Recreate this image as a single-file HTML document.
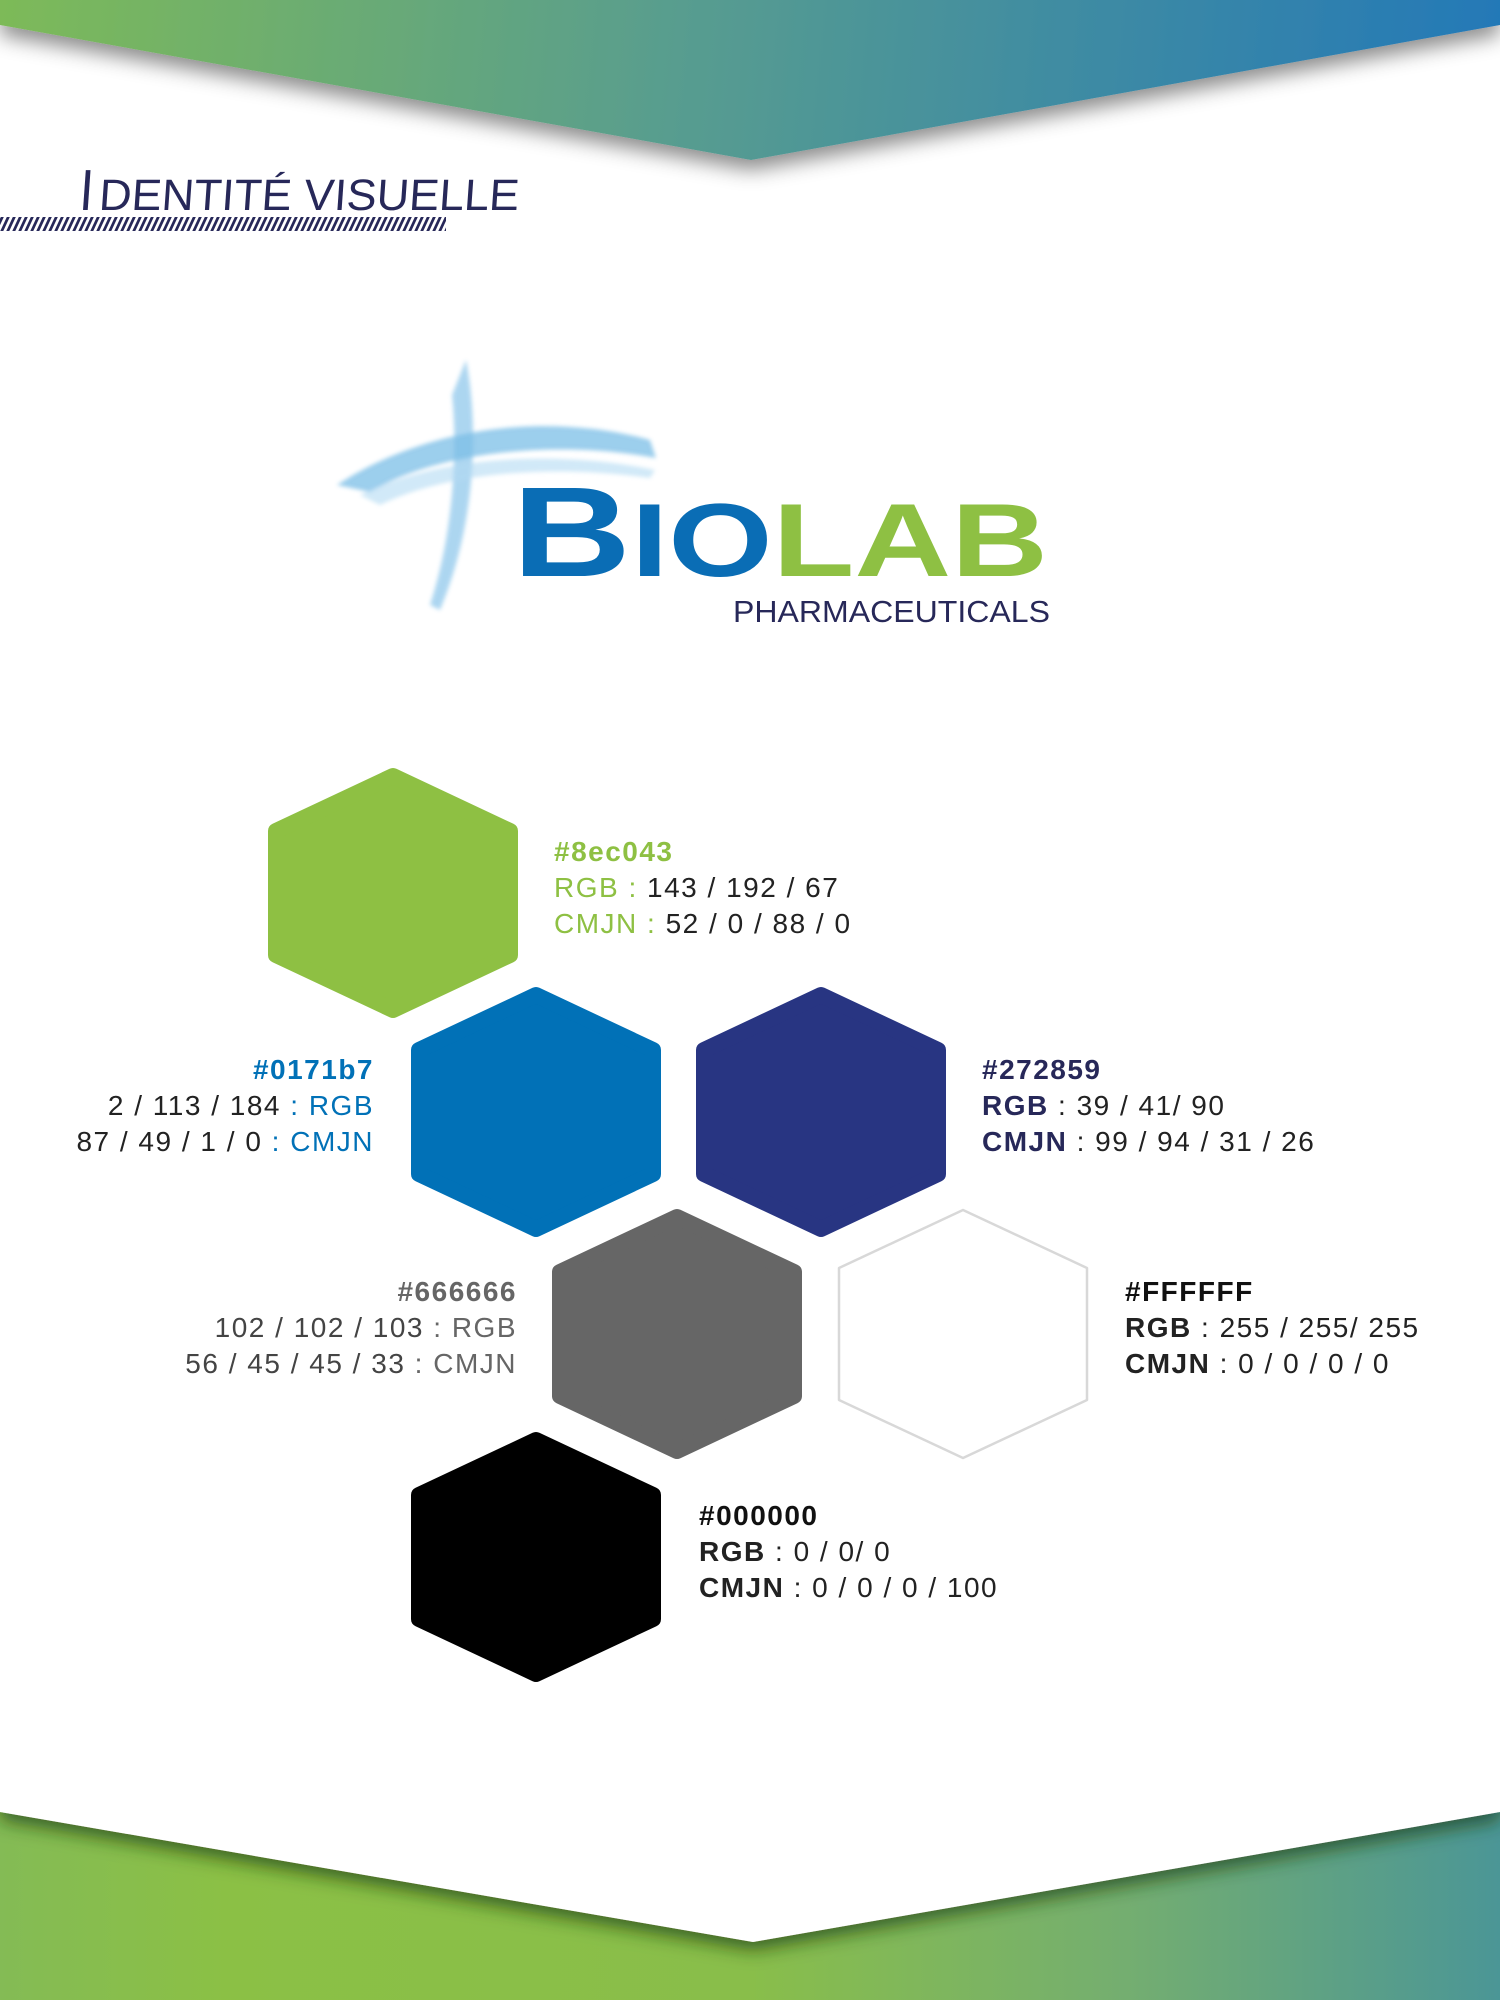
<!DOCTYPE html>
<html><head><meta charset="utf-8"><style>
html,body{margin:0;padding:0;background:#fff;}
svg{display:block;}
text{font-family:"Liberation Sans",sans-serif;}
</style></head><body>
<svg width="1500" height="2000" viewBox="0 0 1500 2000" xmlns="http://www.w3.org/2000/svg">
<defs>
<linearGradient id="gtop" x1="0" y1="0" x2="1500" y2="160" gradientUnits="userSpaceOnUse">
<stop offset="0" stop-color="#7dba58"/><stop offset="0.45" stop-color="#589d8f"/><stop offset="1" stop-color="#2378b8"/></linearGradient>
<linearGradient id="gbot" x1="0" y1="0" x2="1500" y2="0" gradientUnits="userSpaceOnUse">
<stop offset="0" stop-color="#84bb55"/><stop offset="0.15" stop-color="#8bc045"/><stop offset="0.5" stop-color="#89be4a"/><stop offset="0.75" stop-color="#74ae70"/><stop offset="1" stop-color="#4b9696"/></linearGradient>
<filter id="sh" x="-10%" y="-50%" width="120%" height="200%"><feDropShadow dx="0" dy="10" stdDeviation="10" flood-color="#000" flood-opacity="0.45"/></filter>
<filter id="sh2" x="-10%" y="-50%" width="120%" height="200%"><feDropShadow dx="0" dy="8" stdDeviation="9" flood-color="#1a3a10" flood-opacity="0.7"/></filter>
<pattern id="hatch" width="6" height="16" patternUnits="userSpaceOnUse" patternTransform="skewX(-25)"><rect x="0" y="0" width="3" height="16" fill="#272859"/></pattern>
<filter id="blur"><feGaussianBlur stdDeviation="2"/></filter>
</defs>

<polygon points="0,0 1500,0 1500,25 751,160 0,25" fill="url(#gtop)" filter="url(#sh)"/>

<rect x="0" y="1800" width="1500" height="200" fill="url(#gbot)"/>
<polygon points="0,1780 1500,1780 1500,1812 753,1942 0,1812" fill="#fff" filter="url(#sh2)"/>
<rect x="0" y="1760" width="1500" height="25" fill="#fff"/>

<!-- title -->
<text x="78" y="210" font-size="58" fill="#272859" textLength="14" lengthAdjust="spacingAndGlyphs" transform="skewX(-4) translate(15,0)">I</text>
<text x="98" y="210" font-size="44" fill="#272859" textLength="420" lengthAdjust="spacingAndGlyphs" transform="skewX(-4) translate(15,0)">DENTITÉ VISUELLE</text>
<rect x="0" y="217" width="446" height="14" fill="url(#hatch)"/>

<!-- logo cross -->
<g opacity="0.8" filter="url(#blur)">
<path d="M466,360 C478,420 478,520 440,610 L430,605 C458,520 456,430 452,395 Z" fill="#6cb6e6" opacity="0.7"/>
<path d="M337,485 C420,430 540,410 650,440 L656,458 C560,440 440,450 370,492 Z" fill="#5aaee0" opacity="0.75"/>
<path d="M360,495 C440,455 560,450 655,470 L650,478 C560,465 450,470 380,505 Z" fill="#9fd0f0" opacity="0.6"/>
</g>
<text x="512" y="576" font-family="Liberation Serif" font-weight="bold" fill="#0a6db5" textLength="536" lengthAdjust="spacingAndGlyphs"><tspan font-size="128">B</tspan><tspan font-size="104">IO</tspan><tspan font-size="104" fill="#8ec043">LAB</tspan></text>
<text x="733" y="622" font-size="31" fill="#272859" textLength="317" lengthAdjust="spacingAndGlyphs">PHARMACEUTICALS</text>

<g stroke-linejoin="round" stroke-width="16">
<polygon transform="translate(393,893)" points="0,-117 117,-62 117,62 0,117 -117,62 -117,-62" fill="#8ec043" stroke="#8ec043"/>
<polygon transform="translate(536,1112)" points="0,-117 117,-62 117,62 0,117 -117,62 -117,-62" fill="#0171b7" stroke="#0171b7"/>
<polygon transform="translate(821,1112)" points="0,-117 117,-62 117,62 0,117 -117,62 -117,-62" fill="#283582" stroke="#283582"/>
<polygon transform="translate(677,1334)" points="0,-117 117,-62 117,62 0,117 -117,62 -117,-62" fill="#666666" stroke="#666666"/>
<polygon transform="translate(536,1557)" points="0,-117 117,-62 117,62 0,117 -117,62 -117,-62" fill="#000" stroke="#000"/>
</g>
<polygon transform="translate(963,1334)" points="0,-124 124,-66 124,66 0,124 -124,66 -124,-66" fill="#fff" stroke="#d8d8d8" stroke-width="2.5" stroke-linejoin="round"/>

<g font-size="28" letter-spacing="1.5">
<text x="554" y="861" fill="#8ec043" font-weight="bold">#8ec043</text>
<text x="554" y="897" fill="#8ec043">RGB : <tspan fill="#222">143 / 192 / 67</tspan></text>
<text x="554" y="933" fill="#8ec043">CMJN : <tspan fill="#222">52 / 0 / 88 / 0</tspan></text>

<text x="374" y="1079" fill="#0171b7" text-anchor="end" font-weight="bold">#0171b7</text>
<text x="374" y="1115" fill="#222" text-anchor="end">2 / 113 / 184 <tspan fill="#0171b7">: RGB</tspan></text>
<text x="374" y="1151" fill="#222" text-anchor="end">87 / 49 / 1 / 0 <tspan fill="#0171b7">: CMJN</tspan></text>

<text x="982" y="1079" fill="#272859" font-weight="bold">#272859</text>
<text x="982" y="1115" fill="#272859"><tspan font-weight="bold">RGB</tspan> <tspan fill="#222">: 39 / 41/ 90</tspan></text>
<text x="982" y="1151" fill="#272859"><tspan font-weight="bold">CMJN</tspan> <tspan fill="#222">: 99 / 94 / 31 / 26</tspan></text>

<text x="517" y="1301" fill="#666" text-anchor="end" font-weight="bold">#666666</text>
<text x="517" y="1337" fill="#444" text-anchor="end">102 / 102 / 103 <tspan fill="#666">: RGB</tspan></text>
<text x="517" y="1373" fill="#444" text-anchor="end">56 / 45 / 45 / 33 <tspan fill="#666">: CMJN</tspan></text>

<text x="1125" y="1301" fill="#111" font-weight="bold">#FFFFFF</text>
<text x="1125" y="1337" fill="#222"><tspan font-weight="bold">RGB</tspan> : 255 / 255/ 255</text>
<text x="1125" y="1373" fill="#222"><tspan font-weight="bold">CMJN</tspan> : 0 / 0 / 0 / 0</text>

<text x="699" y="1525" fill="#111" font-weight="bold">#000000</text>
<text x="699" y="1561" fill="#222"><tspan font-weight="bold">RGB</tspan> : 0 / 0/ 0</text>
<text x="699" y="1597" fill="#222"><tspan font-weight="bold">CMJN</tspan> : 0 / 0 / 0 / 100</text>
</g>
</svg>
</body></html>
